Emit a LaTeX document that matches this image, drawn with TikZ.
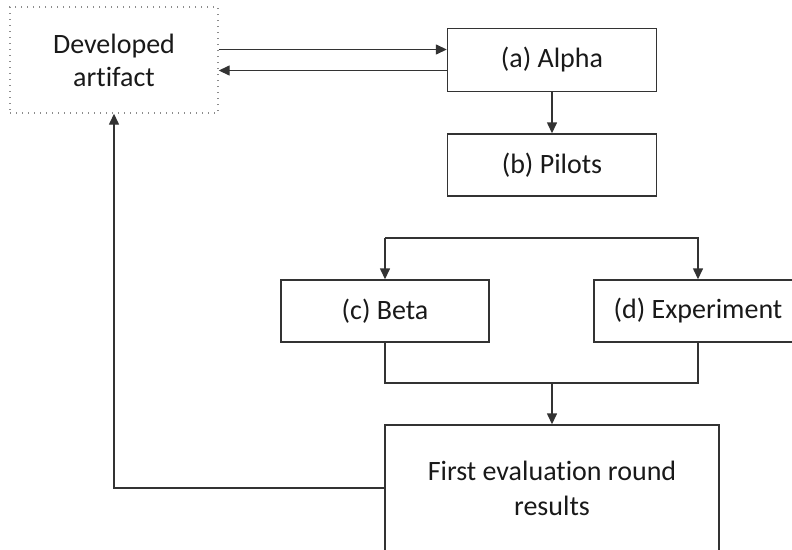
\documentclass[tikz,border=0pt]{standalone}
\usepackage{fontspec}
\setmainfont[Ligatures=NoCommon]{Carlito}
\usetikzlibrary{arrows.meta}
\begin{document}
\begin{tikzpicture}[x=1pt,y=-1pt,
  box/.style={draw=black!80, line width=1.4pt, align=center, inner sep=0pt,
    font=\fontsize{28}{33}\selectfont, text=black!90},
  dotbox/.style={box, draw=black!45, line width=1.4pt, dash pattern=on 1.3pt off 4.7pt},
  arr/.style={draw=black!80, line width=1.4pt, -{Triangle[length=11pt,width=10pt]}},
  ln/.style={draw=black!80, line width=1.4pt}]
\useasboundingbox (0,0) rectangle (792,549);
\node[dotbox, minimum width=208pt, minimum height=106pt] (art) at (114,60) {Developed\\artifact};
\node[box, minimum width=209pt, minimum height=63pt] (alpha) at (552,60) {(a) Alpha};
\node[box, minimum width=209pt, minimum height=62pt] (pilots) at (552,165) {(b) Pilots};
\node[box, minimum width=208pt, minimum height=62pt] (beta) at (385,311) {(c) Beta};
\node[box, minimum width=208pt, minimum height=62pt] (exp) at (698,311) {(d) Experiment};
\node[box, minimum width=334pt, minimum height=126pt, font=\fontsize{28}{35}\selectfont] (final) at (552,488) {First evaluation round\\results};
\draw[arr] ([yshift=10.5pt]art.east) -- ([yshift=10.5pt]alpha.west);
\draw[arr] ([yshift=-10.5pt]alpha.west) -- ([yshift=-10.5pt]art.east);
\draw[arr] (alpha) -- (pilots);
\coordinate (sl) at (385,238);
\coordinate (sr) at (698,238);
\draw[arr] (sl) -- (beta.north);
\draw[arr] (sl) -- (sr) -- (exp.north);
\coordinate (mid) at (552,383);
\draw[ln] (beta.south) |- (mid) -| (exp.south);
\draw[arr] (mid) -- (final.north);
\draw[arr] (final.west) -| (art.south);
\end{tikzpicture}
\end{document}
